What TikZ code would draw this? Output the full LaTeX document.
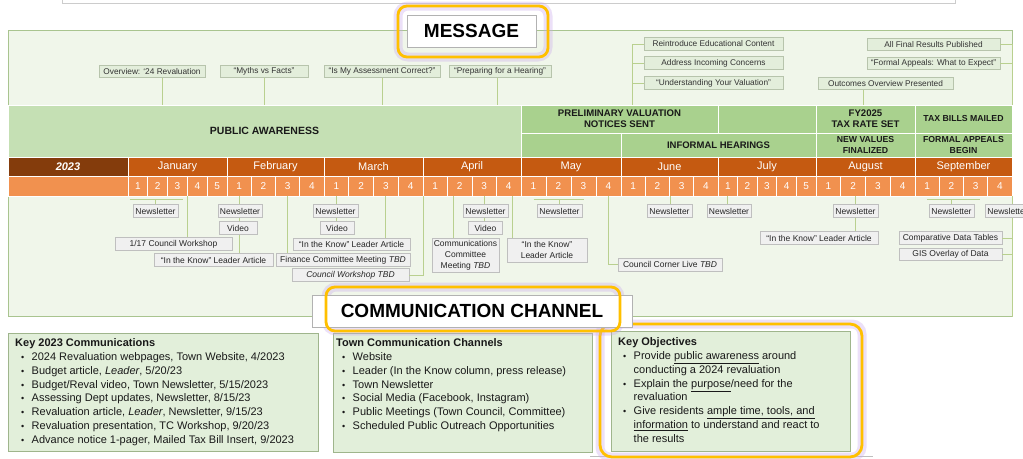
\documentclass[tikz,border=0pt]{standalone}
\usepackage{fontspec}
\setmainfont{Liberation Sans}
\usetikzlibrary{calc}
\definecolor{panelfill}{HTML}{F0F6EA}
\definecolor{panelline}{HTML}{A9C48F}
\definecolor{conncol}{HTML}{B9D08F}
\definecolor{lblfill}{HTML}{E3EEDB}
\definecolor{lblline}{HTML}{B7C4AC}
\definecolor{tlfill}{HTML}{F0F0F0}
\definecolor{tlline}{HTML}{BFBFBF}
\definecolor{pafill}{HTML}{C5E0B4}
\definecolor{phfill}{HTML}{A9D18E}
\definecolor{monthcol}{HTML}{C55A11}
\definecolor{yearcol}{HTML}{843C0C}
\definecolor{weekcol}{HTML}{F1914F}
\definecolor{keyfill}{HTML}{E2EFDA}
\definecolor{keyline}{HTML}{9FB58C}
\definecolor{goldcol}{HTML}{FFC000}
\definecolor{glowcol}{HTML}{C9A9EC}
\newcommand{\myfs}[2]{\fontsize{#1}{#2}\selectfont}
\newcommand{\bul}[1][6]{\hspace*{#1pt}\makebox[10.5pt][l]{\myfs{9}{9}\textbullet}}
\begin{document}
\begin{tikzpicture}[x=1pt,y=-1pt,
  msg/.style={draw=lblline, fill=lblfill, line width=0.6pt, inner sep=0.5pt, minimum height=12.5pt, font=\myfs{8.3}{10}, text=black!80},
  tl/.style={draw=tlline, fill=tlfill, line width=0.6pt, inner sep=0.5pt, minimum height=12.5pt, font=\myfs{8.5}{10.5}, text=black!85, align=center},
  conn/.style={draw=conncol, line width=0.8pt},
  phase/.style={draw=white, line width=1pt, fill=phfill, align=center, font=\bfseries\myfs{9.6}{11}, text=black!90, inner sep=0pt},
  month/.style={draw=white, line width=0.8pt, fill=monthcol, text=white, font=\myfs{11}{13}, inner sep=0pt, minimum height=19pt},
  week/.style={draw=white, line width=0.8pt, fill=weekcol, text=white, font=\myfs{10}{12}, inner sep=0pt, minimum height=20pt},
  keybox/.style={draw=keyline, fill=keyfill, line width=0.8pt, inner sep=0pt, anchor=north west},
  keytext/.style={align=left, font=\myfs{11}{13.8}, inner sep=0pt, anchor=north west, text=black!90},
  hl/.style={draw=goldcol, line width=2.8pt, rounded corners=9pt},
  glow/.style={draw=glowcol, line width=9pt, rounded corners=10pt, opacity=0.35},
  titlebox/.style={draw=black!30, fill=white, line width=0.6pt, font=\bfseries\myfs{19}{21}, inner sep=0pt}
]
\useasboundingbox (0,0) rectangle (1023,458);
\clip (0,0) rectangle (1023,458);
\fill[white] (0,0) rectangle (1023,458);

% top box and main panel
\node[draw=black!20, fill=white, line width=0.6pt, minimum width=893pt, minimum height=20pt, anchor=south west, inner sep=0pt] (topbox) at (62,4) {};
\node[draw=panelline, fill=panelfill, line width=0.8pt, minimum width=1004pt, minimum height=286pt, anchor=north west, inner sep=0pt] (panel) at (8,30) {};

% phase cells
\node[phase, fill=pafill, minimum width=513pt, minimum height=52pt, font=\bfseries\myfs{10.5}{12}] (pa) at (264.5,131) {PUBLIC AWARENESS};
\node[phase, minimum width=197pt, minimum height=28pt] (pv) at (619.5,119) {PRELIMINARY VALUATION\\NOTICES SENT};
\node[phase, minimum width=98pt, minimum height=28pt] (pe) at (767,119) {};
\node[phase, minimum width=99pt, minimum height=28pt] (fy) at (865.5,119) {FY2025\\TAX RATE SET};
\node[phase, minimum width=97pt, minimum height=28pt, font=\bfseries\myfs{8.7}{10.5}] (tb) at (963.5,119) {TAX BILLS MAILED};
\node[phase, minimum width=100pt, minimum height=24pt] (le) at (571,145) {};
\node[phase, minimum width=195pt, minimum height=24pt, font=\bfseries\myfs{9.5}{11}] (ih) at (718.5,145) {INFORMAL HEARINGS};
\node[phase, minimum width=99pt, minimum height=24pt, font=\bfseries\myfs{8.7}{10.5}] (nv) at (865.5,145) {NEW VALUES\\FINALIZED};
\node[phase, minimum width=97pt, minimum height=24pt, font=\bfseries\myfs{8.7}{10.5}] (fa) at (963.5,145) {FORMAL APPEALS\\BEGIN};

% months and weeks
\node[month, fill=yearcol, minimum width=120pt, font=\bfseries\itshape\myfs{11}{13}] (yr) at (68,166.5) {2023};
\node[week, minimum width=120pt] (wl) at (68,186) {};
\foreach \mname/\ma/\mb/\n/\id in {January/128/227/5/Jan, February/227/324/4/Feb, March/324/423/4/Mar, April/423/521/4/Apr, May/521/621/4/May, June/621/718/4/Jun, July/718/816/5/Jul, August/816/915/4/Aug, September/915/1012/4/Sep}{
  \pgfmathsetmacro\mw{\mb-\ma}
  \pgfmathsetmacro\mc{(\ma+\mb)/2}
  \pgfmathsetmacro\ww{(\mb-\ma)/\n}
  \node[month, minimum width=\mw pt] (m\id) at (\mc,166.5) {\mname};
  \foreach \k in {1,...,\n}{
    \pgfmathsetmacro\wc{\ma+(\k-0.5)*\ww}
    \node[week, minimum width=\ww pt] (w\id\k) at (\wc,186) {\k};
  }
}

% message labels
\node[msg, minimum width=106pt] (ov) at (152,71.5) {Overview: ‘24 Revaluation};
\node[msg, minimum width=88pt] (my) at (264,71.5) {“Myths vs Facts”};
\node[msg, minimum width=116pt] (ic) at (382,71.5) {“Is My Assessment Correct?”};
\node[msg, minimum width=102pt] (ph) at (500,71.5) {“Preparing for a Hearing”};
\node[msg, minimum width=139pt] (re) at (713.5,44) {Reintroduce Educational Content};
\node[msg, minimum width=139pt] (ad) at (713.5,63) {Address Incoming Concerns};
\node[msg, minimum width=139pt] (un) at (713.5,83) {“Understanding Your Valuation”};
\node[msg, minimum width=133pt] (af) at (933.5,44.5) {All Final Results Published};
\node[msg, minimum width=133pt] (fe) at (933.5,63.5) {“Formal Appeals: What to Expect”};
\node[msg, minimum width=135pt] (oo) at (885.5,83.5) {Outcomes Overview Presented};

\draw[conn] ([xshift=10pt]ov.south) -- ([xshift=10pt]ov.south |- pa.north);
\draw[conn] (my.south) -- (my.south |- pa.north);
\draw[conn] (ic.south) -- (ic.south |- pa.north);
\draw[conn] ([xshift=-3pt]ph.south) -- ([xshift=-3pt]ph.south |- pa.north);
\coordinate (rb) at ([xshift=-11pt]re.west);
\draw[conn] (re.west) -- (rb) -- (rb |- pv.north);
\draw[conn] (ad.west) -- (ad.west -| rb);
\draw[conn] (un.west) -- (un.west -| rb);
\draw[conn] (af.east) -- (af.east -| panel.east);
\draw[conn] (fe.east) -- (fe.east -| panel.east);
\draw[conn] (af.east -| panel.east) -- (tb.north -| panel.east);
\draw[conn] ([xshift=-22pt]oo.south) -- ([xshift=-22pt]oo.south |- fy.north);

% timeline labels
\node[tl, minimum width=45pt] (nlJan) at (155.5,211) {Newsletter};
\node[tl, minimum width=117pt] (cw117) at (173.5,244) {1/17 Council Workshop};
\node[tl, minimum width=44pt] (nlFeb) at (240,211) {Newsletter};
\node[tl, minimum width=38pt] (vidFeb) at (238,228) {Video};
\node[tl, minimum width=119pt] (itkFeb) at (213.5,260) {“In the Know” Leader Article};
\node[tl, minimum width=134pt] (finFeb) at (343,260) {Finance Committee Meeting \textit{TBD}};
\node[tl, minimum width=45pt] (nlMar) at (335.5,211) {Newsletter};
\node[tl, minimum width=34pt] (vidMar) at (337,228) {Video};
\node[tl, minimum width=117pt] (itkMar) at (351.5,244.5) {“In the Know” Leader Article};
\node[tl, minimum width=117pt, minimum height=13pt] (cwMar) at (350.5,275) {\textit{Council Workshop TBD}};
\node[tl, minimum width=67pt, minimum height=34pt, font=\myfs{8.5}{11}] (commApr) at (465.5,255.5) {Communications\\Committee\\Meeting \textit{TBD}};
\node[tl, minimum width=45pt] (nlApr) at (485.5,211) {Newsletter};
\node[tl, minimum width=34pt] (vidApr) at (485.5,228) {Video};
\node[tl, minimum width=80pt, minimum height=24pt, font=\myfs{8.5}{11}] (itkApr) at (547,250) {“In the Know”\\Leader Article};
\node[tl, minimum width=45pt] (nlMay) at (559.5,211) {Newsletter};
\node[tl, minimum width=104pt, minimum height=13pt] (cclMay) at (670,264.5) {Council Corner Live \textit{TBD}};
\node[tl, minimum width=45pt] (nlJun) at (669.5,211) {Newsletter};
\node[tl, minimum width=44pt] (nlJul) at (729,211) {Newsletter};
\node[tl, minimum width=45pt] (nlAug) at (855.5,211) {Newsletter};
\node[tl, minimum width=118pt] (itkAug) at (819,238) {“In the Know” Leader Article};
\node[tl, minimum width=45pt] (nlSep) at (951.5,211) {Newsletter};
\node[tl, minimum width=45pt] (nlSepb) at (1007.5,211) {Newsletter};
\node[tl, minimum width=103pt] (cdt) at (950.5,238) {Comparative Data Tables};
\node[tl, minimum width=103pt] (gis) at (950.5,254.5) {GIS Overlay of Data};

% timeline connectors
\coordinate (bJanL) at ([xshift=2pt,yshift=-3pt]wJan1.south west);
\coordinate (bJanR) at ([xshift=-5pt,yshift=-3pt]wJan3.south east);
\draw[conn] (bJanL) -- (bJanR);
\draw[conn] (nlJan.north) -- (nlJan.north |- bJanL);
\draw[conn] (wJan3.south east) -- (wJan3.south east |- cw117.north);
\draw[conn] (wFeb1.south) -- (wFeb1.south |- nlFeb.north);
\draw[conn] (nlFeb.south -| wFeb1.south) -- (vidFeb.north -| wFeb1.south);
\draw[conn] (vidFeb.south -| wFeb1.south) -- (itkFeb.north -| wFeb1.south);
\draw[conn] (wFeb3.south) -- (wFeb3.south |- finFeb.north);
\draw[conn] (wMar1.south) -- (wMar1.south |- nlMar.north);
\draw[conn] (nlMar.south -| wMar1.south) -- (vidMar.north -| wMar1.south);
\draw[conn] (wMar3.south) -- (wMar3.south |- itkMar.north);
\draw[conn] (cwMar.east) -| (wMar4.south east);
\draw[conn] ([xshift=-6pt]wApr2.south) -- ([xshift=-6pt]wApr2.south |- commApr.north);
\draw[conn] (wApr3.south) -- (wApr3.south |- nlApr.north);
\draw[conn] (nlApr.south -| wApr3.south) -- (vidApr.north -| wApr3.south);
\draw[conn] ([xshift=4pt]wApr4.south) -- ([xshift=4pt]wApr4.south |- itkApr.north);
\coordinate (bMayL) at ([yshift=-3pt]wMay1.south);
\coordinate (bMayR) at ([yshift=-3pt]wMay3.south);
\draw[conn] (bMayL) -- (bMayR);
\draw[conn] (nlMay.north) -- (nlMay.north |- bMayL);
\draw[conn] (cclMay.west) -| (wMay4.south);
\draw[conn] (wJun2.south east) -- (wJun2.south east |- nlJun.north);
\draw[conn] (wJul1.south) -- (wJul1.south |- nlJul.north);
\draw[conn] (nlAug.north |- wAug2.south) -- (nlAug.north);
\draw[conn] (nlAug.south) -- (nlAug.south |- itkAug.north);
\coordinate (bSepL) at ([yshift=-3pt]wSep1.south);
\coordinate (bSepR) at ([xshift=4pt,yshift=-3pt]wSep3.south);
\draw[conn] (bSepL) -- (bSepR);
\draw[conn] (nlSep.north) -- (nlSep.north |- bSepL);
\draw[conn] (wSep4.south east) -- (wSep4.south east |- nlSepb.north);
\draw[conn] (wSep4.south east |- nlSepb.south) -- (wSep4.south east |- panel.south);
\draw[conn] (cdt.east) -- (cdt.east -| wSep4.south east);
\draw[conn] (gis.east) -- (gis.east -| wSep4.south east);

% MESSAGE title
\draw[glow] (398,6) rectangle (548,57);
\node[titlebox, minimum width=129pt, minimum height=32pt] (msgtitle) at (471.5,31) {MESSAGE};
\draw[hl] (398,6) rectangle (548,57);

% bottom boxes
\node[keybox, minimum width=310pt, minimum height=118pt] (kc) at (8,333) {};
\node[keytext] (kct) at (15,338.5) {\textbf{Key 2023 Communications}\\
\bul 2024 Revaluation webpages, Town Website, 4/2023\\
\bul Budget article, \textit{Leader}, 5/20/23\\
\bul Budget/Reval video, Town Newsletter, 5/15/2023\\
\bul Assessing Dept updates, Newsletter, 8/15/23\\
\bul Revaluation article, \textit{Leader}, Newsletter, 9/15/23\\
\bul Revaluation presentation, TC Workshop, 9/20/23\\
\bul Advance notice 1-pager, Mailed Tax Bill Insert, 9/2023};

\node[keybox, minimum width=259pt, minimum height=119pt] (tc) at (333,333) {};
\node[keytext] (tct) at (336,338.5) {\textbf{Town Communication Channels}\\
\bul Website\\
\bul Leader (In the Know column, press release)\\
\bul Town Newsletter\\
\bul Social Media (Facebook, Instagram)\\
\bul Public Meetings (Town Council, Committee)\\
\bul Scheduled Public Outreach Opportunities};

\draw[black!25, line width=0.6pt] (590,456) -- (873,456);
\draw[glow] (600,324) rectangle (862,457);
\node[keybox, minimum width=239pt, minimum height=120pt] (ko) at (611,331) {};
\node[keytext] (kot) at (618,337.5) {\textbf{Key Objectives}\\
\bul[5]Provide \underline{public awareness} around\\
\hspace*{15.5pt}conducting a 2024 revaluation\\
\bul[5]Explain the \underline{purpose}/need for the\\
\hspace*{15.5pt}revaluation\\
\bul[5]Give residents \underline{ample time, tools, and}\\
\hspace*{15.5pt}\underline{information} to understand and react to\\
\hspace*{15.5pt}the results};
\draw[hl, rounded corners=12pt] (600,324) rectangle (862,457);

% COMMUNICATION CHANNEL title
\draw[glow] (326,287) rectangle (620,331);
\node[titlebox, minimum width=320pt, minimum height=32pt] (cctitle) at (472,311) {COMMUNICATION CHANNEL};
\draw[hl] (326,287) rectangle (620,331);
\end{tikzpicture}
\end{document}
